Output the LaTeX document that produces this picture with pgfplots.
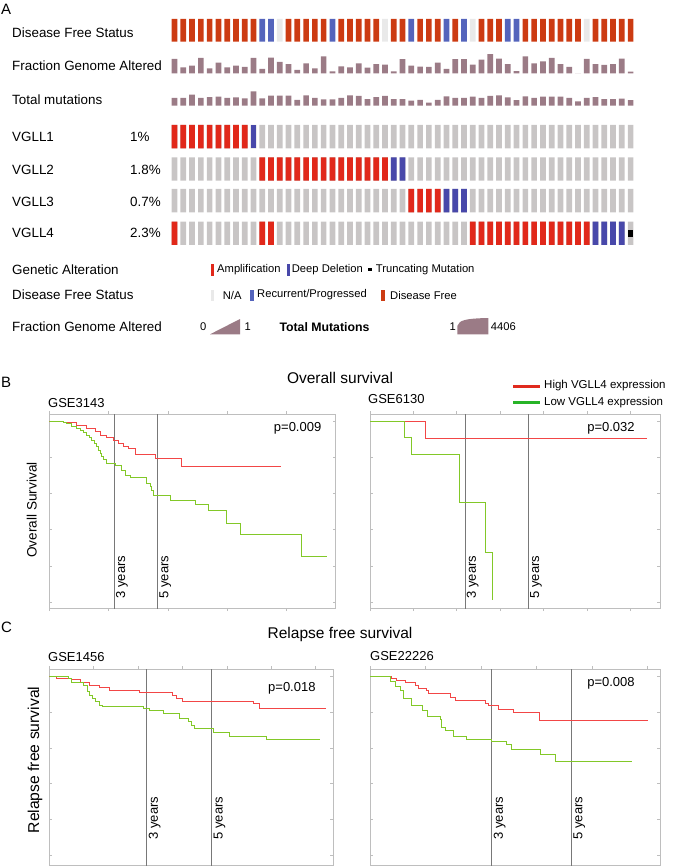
\documentclass[border=0pt]{standalone}
\usepackage{fontspec}
\setmainfont{Liberation Sans}
\usepackage{pgfplots}
\pgfplotsset{compat=1.18}
\usepackage{pgfplotstable}
\newcommand\fs[1]{\fontsize{#1}{#1}\selectfont}
\definecolor{dfsred}{RGB}{204,59,18}
\definecolor{dfsblue}{RGB}{84,100,188}
\definecolor{dfsna}{RGB}{233,233,233}
\definecolor{amp}{RGB}{225,40,26}
\definecolor{del}{RGB}{72,72,170}
\definecolor{nogene}{RGB}{200,197,197}
\definecolor{mauve}{RGB}{155,123,134}
\definecolor{kmred}{RGB}{242,70,70}
\definecolor{kmgreen}{RGB}{130,200,40}
\definecolor{legred}{RGB}{224,42,30}
\definecolor{leggreen}{RGB}{40,180,40}
\definecolor{frame}{RGB}{190,190,190}
\definecolor{yearline}{RGB}{120,120,120}

\pgfplotstableread{
i fga tm
0 0.63 0.35
1 0.26 0.35
2 0.34 0.49
3 0.68 0.35
4 0.22 0.38
5 0.47 0.40
6 0.26 0.35
7 0.34 0.37
8 0.28 0.32
9 0.68 0.63
10 0.19 0.32
11 0.69 0.44
12 0.50 0.44
13 0.40 0.44
14 0.15 0.26
15 0.44 0.46
16 0.22 0.35
17 0.74 0.28
18 0.09 0.28
19 0.31 0.35
20 0.26 0.46
21 0.44 0.43
22 0.25 0.29
23 0.40 0.38
24 0.38 0.43
25 0.09 0.29
26 0.62 0.29
27 0.34 0.22
28 0.29 0.26
29 0.28 0.13
30 0.47 0.26
31 0.19 0.41
32 0.62 0.35
33 0.62 0.35
34 0.38 0.40
35 0.60 0.34
36 0.84 0.43
37 0.65 0.46
38 0.40 0.37
39 0.10 0.24
40 0.75 0.41
41 0.44 0.35
42 0.53 0.40
43 0.68 0.40
44 0.40 0.40
45 0.28 0.35
46 0.00 0.19
47 0.63 0.35
48 0.40 0.38
49 0.37 0.29
50 0.40 0.29
51 0.65 0.31
52 0.07 0.24
}\onco

\pgfplotsset{
  track/.style={hide axis, scale only axis, x=8.77pt, y=#1, xmin=-0.5, xmax=52.5,
    ymin=0, ymax=1, anchor=south west, clip=false},
  bars/.style={ybar, bar width=5.7pt, bar shift=0pt, draw=none, fill=#1},
  surv/.style={scale only axis, anchor=north west,
    axis line style={frame, line width=0.7pt},
    every tick/.style={frame, line width=0.6pt},
    xtick align=outside, ytick align=inside, major tick length=3pt,
    xticklabels={}, yticklabels={}, ytick={0,0.2,0.4,0.6,0.8,1}, xmin=0},
  kmr/.style={const plot, kmred, line width=0.9pt},
  kmg/.style={const plot, kmgreen, line width=0.9pt},
  yl/.style={yearline, line width=0.9pt},
}

\begin{document}
\begin{tikzpicture}
\useasboundingbox (0,0) rectangle (675pt,-866pt);

% ---------------- Panel A : oncoprint ----------------
\node[anchor=west, inner sep=0] at (1pt,-9pt) {\fs{15}A};
\begin{scope}[every node/.style={anchor=west, inner sep=0}]
\node at (12pt,-32.3pt) {\fs{13.4}Disease Free Status};
\node at (12pt,-66pt) {\fs{13.4}Fraction Genome Altered};
\node at (12pt,-100pt) {\fs{13.4}Total mutations};
\node at (12pt,-136.7pt) {\fs{13.4}VGLL1};
\node at (12pt,-169.5pt) {\fs{13.4}VGLL2};
\node at (12pt,-201.5pt) {\fs{13.4}VGLL3};
\node at (12pt,-233.3pt) {\fs{13.4}VGLL4};
\node at (130pt,-136.7pt) {\fs{13.4}1\%};
\node at (130pt,-169.5pt) {\fs{13.4}1.8\%};
\node at (130pt,-201.5pt) {\fs{13.4}0.7\%};
\node at (130pt,-233.3pt) {\fs{13.4}2.3\%};
\end{scope}

% Disease free status
\begin{axis}[track=22.7pt, at={(170.165pt,-41.7pt)}]
\addplot[bars=dfsred] coordinates {(0,1)(1,1)(2,1)(3,1)(4,1)(5,1)(6,1)(7,1)(8,1)(9,1)
 (13,1)(14,1)(15,1)(16,1)(17,1)(19,1)(20,1)(21,1)(22,1)(23,1)(25,1)(26,1)(28,1)(29,1)(30,1)
 (32,1)(35,1)(36,1)(37,1)(40,1)(41,1)(42,1)(43,1)(44,1)(45,1)(46,1)(48,1)(49,1)(50,1)(51,1)(52,1)};
\addplot[bars=dfsblue] coordinates {(10,1)(11,1)(18,1)(27,1)(31,1)(33,1)(38,1)(39,1)};
\addplot[bars=dfsna] coordinates {(12,1)(24,1)(34,1)(47,1)};
\end{axis}
% Fraction genome altered
\begin{axis}[track=22.7pt, at={(170.165pt,-73.3pt)}]
\addplot[bars=mauve] table[x=i, y=fga] {\onco};
\end{axis}
% Total mutations
\begin{axis}[track=22.7pt, at={(170.165pt,-105.7pt)}]
\addplot[bars=mauve] table[x=i, y=tm] {\onco};
\end{axis}
% VGLL1
\begin{axis}[track=23.3pt, at={(170.165pt,-148.3pt)}]
\addplot[bars=nogene] table[x=i, y expr=1] {\onco};
\addplot[bars=amp] coordinates {(0,1)(1,1)(2,1)(3,1)(4,1)(5,1)(6,1)(7,1)(8,1)};
\addplot[bars=del] coordinates {(9,1)};
\end{axis}
% VGLL2
\begin{axis}[track=23.3pt, at={(170.165pt,-180.7pt)}]
\addplot[bars=nogene] table[x=i, y expr=1] {\onco};
\addplot[bars=amp] coordinates {(10,1)(11,1)(12,1)(13,1)(14,1)(15,1)(16,1)(17,1)(18,1)(19,1)
 (20,1)(21,1)(22,1)(23,1)(24,1)};
\addplot[bars=del] coordinates {(25,1)(26,1)};
\end{axis}
% VGLL3
\begin{axis}[track=23.3pt, at={(170.165pt,-212.3pt)}]
\addplot[bars=nogene] table[x=i, y expr=1] {\onco};
\addplot[bars=amp] coordinates {(27,1)(28,1)(29,1)(30,1)};
\addplot[bars=del] coordinates {(31,1)(32,1)(33,1)};
\end{axis}
% VGLL4
\begin{axis}[track=23.3pt, at={(170.165pt,-245pt)}]
\addplot[bars=nogene] table[x=i, y expr=1] {\onco};
\addplot[bars=amp] coordinates {(0,1)(10,1)(11,1)(34,1)(35,1)(36,1)(37,1)(38,1)(39,1)(40,1)
 (41,1)(42,1)(43,1)(44,1)(45,1)(46,1)(47,1)};
\addplot[bars=del] coordinates {(48,1)(49,1)(50,1)(51,1)};
\addplot[bars=black] coordinates {(52,0.66)};
\addplot[bars=nogene] coordinates {(52,0.34)};
\end{axis}

% legend of panel A
\begin{scope}[every node/.style={anchor=west, inner sep=0}]
\node at (12pt,-269.3pt) {\fs{13.4}Genetic Alteration};
\node at (12pt,-295pt) {\fs{13.4}Disease Free Status};
\node at (12pt,-326.7pt) {\fs{13.4}Fraction Genome Altered};
\fill[amp] (210.7pt,-264pt) rectangle (214pt,-275.7pt);
\node at (217pt,-269.3pt) {\fs{11.2}Amplification};
\fill[del] (286.7pt,-264pt) rectangle (290pt,-275.7pt);
\node at (291.7pt,-269.3pt) {\fs{11.2}Deep Deletion};
\fill[black] (368.3pt,-267.6pt) rectangle (371.7pt,-271pt);
\node at (375.7pt,-269.3pt) {\fs{11.2}Truncating Mutation};
\fill[dfsna] (210.7pt,-289.5pt) rectangle (214pt,-301pt);
\node at (222.7pt,-295pt) {\fs{11.2}N/A};
\fill[dfsblue] (250pt,-289.5pt) rectangle (254pt,-301pt);
\node at (257pt,-295pt) {\fs{11.2}Recurrent/Progressed};
\fill[dfsred] (380.7pt,-289.5pt) rectangle (385pt,-301pt);
\node at (390pt,-295pt) {\fs{11.2}Disease Free};
\node at (200pt,-326.7pt) {\fs{11.2}0};
\fill[mauve] (210pt,-334.3pt) -- (240pt,-334.3pt) -- (240pt,-319pt) -- cycle;
\node at (244.3pt,-326.7pt) {\fs{11.2}1};
\node at (279.3pt,-326.7pt) {\fs{12.3}\bfseries Total Mutations};
\node at (449.3pt,-326.7pt) {\fs{11.2}1};
\fill[mauve] (457.3pt,-334.3pt) -- (457.3pt,-326pt) .. controls (459pt,-320pt) and (466pt,-318.5pt) .. (488.3pt,-318pt) -- (488.3pt,-334.3pt) -- cycle;
\node at (490.7pt,-326.7pt) {\fs{11.2}4406};
\end{scope}

% ---------------- Panel B ----------------
\node[anchor=west, inner sep=0] at (1pt,-382pt) {\fs{15}B};
\node[inner sep=0] at (340pt,-378pt) {\fs{15.5}Overall survival};
\node[anchor=west, inner sep=0] at (48pt,-403pt) {\fs{13}GSE3143};
\node[anchor=west, inner sep=0] at (368pt,-399pt) {\fs{13}GSE6130};
\draw[legred, line width=3pt] (513pt,-386pt) -- (540pt,-386pt);
\node[anchor=west, inner sep=0] at (544pt,-386pt) {\fs{11.5}High VGLL4 expression};
\draw[leggreen, line width=3pt] (513pt,-402.7pt) -- (540pt,-402.7pt);
\node[anchor=west, inner sep=0] at (544pt,-402.7pt) {\fs{11.5}Low VGLL4 expression};
\node[rotate=90, inner sep=0] at (31.7pt,-510pt) {\fs{13.6}Overall Survival};

\begin{axis}[surv, at={(49.3pt,-414pt)}, width=286.4pt, height=194pt,
  xmax=4826, ymin=-0.033, ymax=1.04, xtick={0,1000,2000,3000,4000}]
\addplot[yl] coordinates {(1095,-0.1)(1095,1.1)};
\addplot[yl] coordinates {(1826,-0.1)(1826,1.1)};
\addplot[kmr] coordinates {(0,1.0)(236,0.994)(461,0.979)(629,0.960)(770,0.942)(854,0.923)
 (966,0.911)(1079,0.892)(1163,0.877)(1247,0.863)(1330,0.850)(1444,0.817)(1781,0.794)
 (2230,0.748)(3899,0.748)};
\addplot[kmg] coordinates {(0,1.0)(236,0.994)(292,0.988)(376,0.969)(461,0.960)(517,0.950)
 (573,0.936)(629,0.923)(674,0.911)(713,0.896)(758,0.877)(798,0.859)(831,0.841)(854,0.823)
 (882,0.804)(910,0.786)(955,0.764)(1107,0.758)(1219,0.730)(1275,0.702)(1360,0.689)
 (1640,0.656)(1697,0.638)(1725,0.619)(1753,0.588)(2045,0.564)(2455,0.540)(2680,0.509)
 (2989,0.435)(3225,0.374)(4242,0.250)(4674,0.250)};
\node[rotate=90, anchor=north west, inner sep=1.5pt] at (axis cs:1095,0.011) {\fs{13}3 years};
\node[rotate=90, anchor=north west, inner sep=1.5pt] at (axis cs:1826,0.011) {\fs{13}5 years};
\node at (rel axis cs:0.867,0.928) {\fs{13}p=0.009};
\end{axis}

\begin{axis}[surv, at={(370pt,-414pt)}, width=290pt, height=194pt,
  xmax=3342, ymin=-0.033, ymax=1.04, xtick={0,500,1000,1500,2000,2500,3000}]
\addplot[yl] coordinates {(1095,-0.1)(1095,1.1)};
\addplot[yl] coordinates {(1826,-0.1)(1826,1.1)};
\addplot[kmr, line width=1pt] coordinates {(0,1)(634,0.906)(3189,0.906)};
\addplot[kmg] coordinates {(0,1)(392,0.909)(480,0.818)(1026,0.549)(1325,0.276)(1414,0.011)};
\node[rotate=90, anchor=north west, inner sep=1.5pt] at (axis cs:1095,0.011) {\fs{13}3 years};
\node[rotate=90, anchor=north west, inner sep=1.5pt] at (axis cs:1826,0.011) {\fs{13}5 years};
\node at (rel axis cs:0.831,0.928) {\fs{13}p=0.032};
\end{axis}

% ---------------- Panel C ----------------
\node[anchor=west, inner sep=0] at (1pt,-627pt) {\fs{15}C};
\node[inner sep=0] at (340pt,-634pt) {\fs{15.5}Relapse free survival};
\node[anchor=west, inner sep=0] at (48pt,-657pt) {\fs{13}GSE1456};
\node[anchor=west, inner sep=0] at (370pt,-656pt) {\fs{13}GSE22226};
\node[rotate=90, inner sep=0] at (35pt,-760pt) {\fs{15.7}Relapse free survival};

\begin{axis}[surv, at={(49.3pt,-669.3pt)}, width=283.7pt, height=195.7pt,
  xmax=3195, ymin=-0.056, ymax=1.041, xtick={0,500,1000,1500,2000,2500,3000}]
\addplot[yl] coordinates {(1095,-0.1)(1095,1.1)};
\addplot[yl] coordinates {(1826,-0.1)(1826,1.1)};
\addplot[kmr] coordinates {(0,1)(75,0.991)(244,0.985)(356,0.970)(457,0.951)(570,0.938)
 (682,0.925)(1020,0.912)(1384,0.893)(1432,0.875)(1500,0.862)(2295,0.847)(2362,0.824)(3120,0.824)};
\addplot[kmg] coordinates {(0,1)(214,0.987)(244,0.966)(382,0.948)(427,0.916)(457,0.897)
 (487,0.879)(525,0.860)(570,0.841)(600,0.835)(1057,0.822)(1125,0.809)(1282,0.791)(1470,0.766)
 (1564,0.748)(1601,0.725)(1639,0.710)(1845,0.686)(2032,0.667)(2445,0.649)(3045,0.649)};
\node[rotate=90, anchor=north west, inner sep=2pt] at (axis cs:1095,0.075) {\fs{13}3 years};
\node[rotate=90, anchor=north west, inner sep=2pt] at (axis cs:1826,0.075) {\fs{13}5 years};
\node at (rel axis cs:0.855,0.904) {\fs{13}p=0.018};
\end{axis}

\begin{axis}[surv, at={(370pt,-669.3pt)}, width=290pt, height=195.7pt,
  xmax=2610, ymin=-0.056, ymax=1.041, xtick={0,500,1000,1500,2000,2500}]
\addplot[yl] coordinates {(1095,-0.1)(1095,1.1)};
\addplot[yl] coordinates {(1810,-0.1)(1810,1.1)};
\addplot[kmr] coordinates {(0,1)(195,0.991)(240,0.981)(315,0.970)(405,0.949)(435,0.935)
 (504,0.920)(525,0.907)(720,0.884)(765,0.869)(1035,0.850)(1065,0.836)(1155,0.817)(1290,0.798)
 (1524,0.753)(2505,0.753)};
\addplot[kmg] coordinates {(0,1)(186,0.972)(225,0.944)(270,0.921)(300,0.875)(375,0.841)
 (474,0.813)(516,0.776)(630,0.761)(645,0.716)(675,0.697)(750,0.667)(870,0.649)(1095,0.636)
 (1230,0.617)(1275,0.593)(1536,0.566)(1665,0.523)(2355,0.523)};
\node[rotate=90, anchor=north west, inner sep=2pt] at (axis cs:1095,0.075) {\fs{13}3 years};
\node[rotate=90, anchor=north west, inner sep=2pt] at (axis cs:1810,0.075) {\fs{13}5 years};
\node at (rel axis cs:0.831,0.93) {\fs{13}p=0.008};
\end{axis}
\end{tikzpicture}
\end{document}
